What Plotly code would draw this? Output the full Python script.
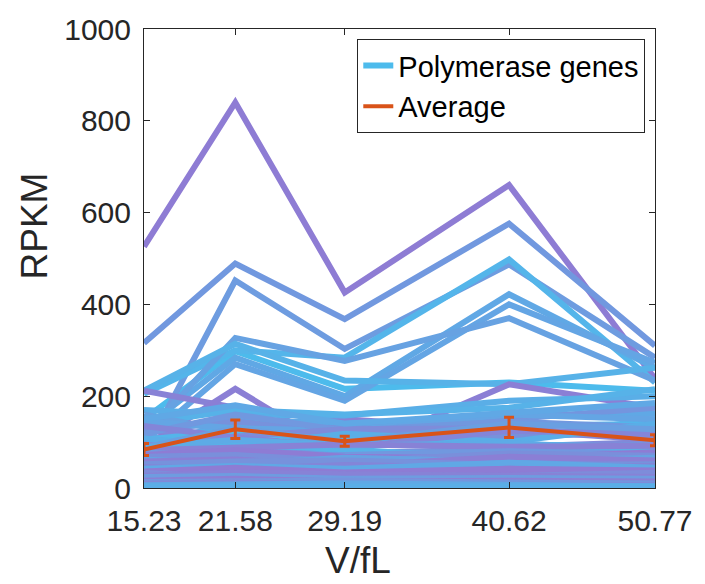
import plotly.graph_objects as go

# ---------------- data ----------------
volumes = [15.23, 21.58, 29.19, 40.62, 50.77]
x_tick_labels = ["15.23", "21.58", "29.19", "40.62", "50.77"]
y_tick_values = [0, 200, 400, 600, 800, 1000]

# high-expression polymerase genes (RPKM)
high_genes = [
    [150, 298, 216, 230, 212],
    [526, 840, 426, 660, 238],
    [316, 489, 368, 576, 310],
    [76, 452, 303, 487, 284],
    [205, 300, 284, 498, 230],
    [130, 284, 200, 422, 262],
    [100, 270, 190, 400, 273],
    [115, 327, 277, 370, 234],
    [212, 314, 234, 226, 262],
]
# mid-expression genes
mid_genes = [
    [212, 175, 150, 125, 105],
    [90, 216, 72, 226, 175],
    [170, 160, 158, 190, 200],
    [140, 170, 160, 175, 215],
    [120, 150, 140, 158, 162],
    [100, 135, 130, 150, 175],
    [160, 120, 110, 140, 130],
    [110, 100, 95, 120, 115],
    [95, 140, 115, 105, 150],
    [80, 110, 90, 115, 120],
    [130, 95, 100, 90, 100],
    [105, 125, 120, 135, 140],
    [125, 145, 120, 110, 125],
    [145, 130, 125, 160, 150],
    [90, 120, 108, 95, 90],
    [118, 160, 125, 145, 132],
    [98, 112, 128, 130, 110],
    [108, 90, 118, 100, 140],
    [135, 110, 88, 125, 118],
    [150, 180, 140, 165, 185],
    [88, 130, 100, 140, 128],
]
# low-expression genes
low_genes = [
    [70, 90, 75, 85, 95],
    [65, 60, 80, 70, 88],
    [60, 75, 62, 72, 80],
    [55, 68, 50, 60, 75],
    [50, 45, 55, 65, 70],
    [48, 55, 45, 40, 62],
    [45, 50, 40, 52, 58],
    [40, 38, 45, 48, 55],
    [38, 42, 35, 40, 50],
    [35, 30, 38, 35, 45],
    [32, 36, 30, 38, 40],
    [30, 28, 32, 30, 35],
    [28, 25, 26, 32, 30],
    [25, 30, 22, 25, 28],
    [22, 20, 24, 20, 25],
    [20, 18, 16, 18, 22],
    [18, 15, 18, 14, 18],
    [15, 12, 12, 12, 15],
    [12, 10, 10, 10, 12],
    [10, 8, 8, 9, 10],
    [8, 6, 6, 6, 8],
    [5, 5, 4, 5, 6],
    [85, 70, 60, 55, 65],
    [75, 95, 85, 60, 50],
    [90, 80, 70, 78, 85],
    [88, 105, 92, 98, 82],
    [82, 88, 95, 90, 92],
    [78, 65, 72, 80, 74],
    [72, 82, 68, 64, 78],
    [68, 72, 58, 75, 70],
    [62, 52, 66, 58, 66],
    [58, 62, 48, 68, 60],
    [52, 58, 60, 50, 52],
    [46, 40, 50, 44, 48],
    [42, 48, 42, 55, 44],
    [36, 44, 34, 42, 38],
    [33, 22, 28, 26, 33],
    [26, 34, 30, 28, 24],
    [24, 26, 20, 22, 20],
    [16, 20, 14, 16, 14],
    [13, 14, 16, 12, 10],
    [9, 12, 8, 8, 6],
    [6, 9, 10, 7, 4],
    [3, 3, 3, 3, 3],
]

average_rpkm = [84, 128, 102, 132, 104]
average_err = [13, 20, 11, 22, 12]

# ---------------- styles ----------------
high_mix = [0.0, 1.0, 0.55, 0.5, 0.1, 0.3, 0.35, 0.4, 0.15]
mid_mix = [0.9, 0.95, 0.2, 0.15, 0.3, 0.6, 0.4, 0.5, 0.25, 0.7, 0.8,
           0.1, 0.65, 0.35, 0.05, 0.55, 0.75, 0.2, 0.85, 0.3, 0.45]
low_mix = [0.6, 0.2, 0.9, 0.4, 1.0, 0.3, 0.8, 0.5, 0.95, 0.1, 0.85, 0.7,
           1.0, 0.45, 0.9, 0.6, 0.75, 0.3, 0.85, 0.5, 0.2, 0.4, 0.35, 0.15,
           0.8, 0.25, 0.9, 0.55, 1.0, 0.7, 0.4, 0.95, 0.65, 0.85, 0.3, 1.0,
           0.75, 0.9, 0.5, 0.95, 0.6, 0.8, 0.3, 0.2]

BLUE = (77, 187, 236)
PURPLE = (142, 124, 212)


def mix_color(t):
    r = round(BLUE[0] + (PURPLE[0] - BLUE[0]) * t)
    g = round(BLUE[1] + (PURPLE[1] - BLUE[1]) * t)
    b = round(BLUE[2] + (PURPLE[2] - BLUE[2]) * t)
    return f"rgb({r},{g},{b})"


FONT = "Liberation Sans, Arial, Helvetica, sans-serif"
AXIS_COLOR = "#262626"

fig = go.Figure()

all_genes = high_genes + mid_genes + low_genes
all_mix = high_mix + mid_mix + low_mix
for i, (vals, t) in enumerate(zip(all_genes, all_mix)):
    fig.add_trace(go.Scatter(
        x=volumes, y=vals, mode="lines",
        line=dict(color=mix_color(t), width=6),
        name="Polymerase genes",
        showlegend=(i == 0),
        hoverinfo="skip",
    ))

fig.add_trace(go.Scatter(
    x=volumes, y=average_rpkm, mode="lines",
    line=dict(color="#D95319", width=4),
    error_y=dict(type="data", array=average_err, color="#D95319",
                 thickness=3, width=5),
    name="Average",
))

fig.update_layout(
    width=705, height=584,
    margin=dict(l=144, r=41, t=26, b=96),
    paper_bgcolor="white", plot_bgcolor="white",
    font=dict(family=FONT, color=AXIS_COLOR),
    showlegend=True,
    legend=dict(
        x=0.981, xanchor="right", y=0.978, yanchor="top",
        bgcolor="white", bordercolor=AXIS_COLOR, borderwidth=1,
        font=dict(size=29, color="black", family=FONT),
        itemwidth=30, tracegroupgap=0,
    ),
    xaxis=dict(
        range=[15.23, 50.77],
        tickmode="array", tickvals=volumes, ticktext=x_tick_labels,
        ticks="inside", ticklen=6, tickwidth=1, tickcolor=AXIS_COLOR,
        showline=True, linecolor=AXIS_COLOR, linewidth=1, mirror="ticks",
        showgrid=False, zeroline=False,
        tickfont=dict(size=30, color=AXIS_COLOR),
        ticklabelstandoff=6,
    ),
    yaxis=dict(
        range=[0, 1000],
        tickmode="array", tickvals=y_tick_values,
        ticks="inside", ticklen=6, tickwidth=1, tickcolor=AXIS_COLOR,
        showline=True, linecolor=AXIS_COLOR, linewidth=1, mirror="ticks",
        showgrid=False, zeroline=False,
        tickfont=dict(size=30, color=AXIS_COLOR),
        ticklabelstandoff=6,
    ),
    annotations=[
        dict(
            text="RPKM", textangle=-90, xref="paper", yref="paper",
            x=-0.215, y=0.57, xanchor="center", yanchor="middle",
            showarrow=False, font=dict(size=37, color=AXIS_COLOR, family=FONT),
        ),
        dict(
            text="V/fL", xref="paper", yref="paper",
            x=0.419, y=-0.158, xanchor="center", yanchor="middle",
            showarrow=False, font=dict(size=37, color=AXIS_COLOR, family=FONT),
        ),
    ],
)

fig.write_html("out.html")
